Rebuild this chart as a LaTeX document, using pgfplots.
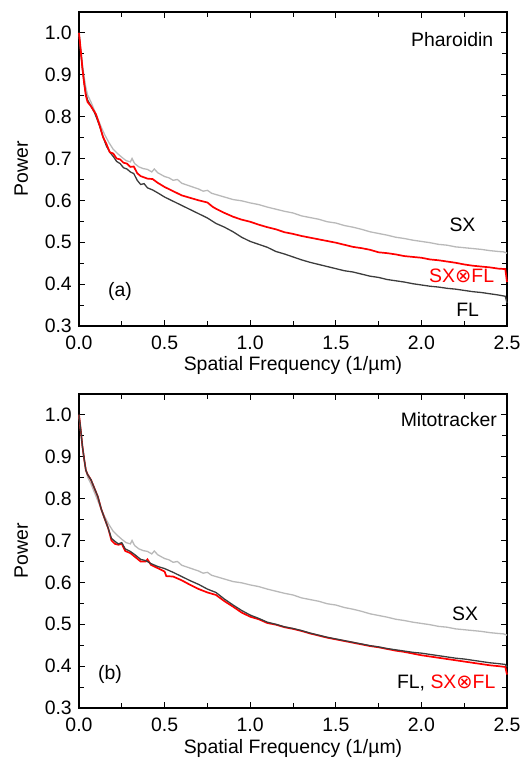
\documentclass[border=0pt]{standalone}
\usepackage{pgfplots}
\pgfplotsset{compat=1.18}
\usepackage{pgfplotstable}
\usepackage{fontspec}
\setmainfont{Liberation Sans}
\newfontfamily\dejavu{DejaVu Sans}
\definecolor{sxgray}{RGB}{185,185,185}
\definecolor{flgray}{RGB}{60,60,60}
\definecolor{sxfl}{RGB}{255,0,0}

\pgfplotstableread{
x y
0.000 1.000
0.010 0.960
0.020 0.925
0.030 0.895
0.040 0.870
0.050 0.852
0.070 0.835
0.090 0.815
0.110 0.795
0.130 0.775
0.150 0.757
0.175 0.738
0.200 0.722
0.225 0.712
0.250 0.703
0.275 0.695
0.300 0.692
0.310 0.700
0.325 0.688
0.350 0.680
0.375 0.676
0.400 0.674
0.425 0.668
0.440 0.675
0.460 0.666
0.500 0.657
0.525 0.654
0.550 0.648
0.575 0.650
0.600 0.641
0.650 0.634
0.700 0.627
0.725 0.622
0.750 0.624
0.775 0.617
0.800 0.614
0.850 0.608
0.900 0.602
0.950 0.599
1.000 0.594
1.050 0.590
1.100 0.584
1.150 0.579
1.200 0.574
1.250 0.570
1.300 0.563
1.350 0.559
1.400 0.555
1.450 0.549
1.500 0.546
1.550 0.540
1.600 0.536
1.650 0.531
1.700 0.525
1.750 0.521
1.800 0.517
1.850 0.512
1.900 0.509
1.950 0.505
2.000 0.502
2.050 0.499
2.100 0.495
2.150 0.493
2.200 0.489
2.250 0.487
2.300 0.485
2.350 0.483
2.400 0.480
2.450 0.478
2.480 0.477
2.500 0.474
}\sxdata

\pgfplotstableread{
x y
0.000 1.000
0.010 0.960
0.020 0.915
0.030 0.880
0.040 0.850
0.050 0.835
0.070 0.825
0.090 0.812
0.100 0.805
0.120 0.780
0.140 0.752
0.160 0.735
0.180 0.715
0.200 0.712
0.220 0.700
0.240 0.698
0.260 0.690
0.280 0.688
0.300 0.680
0.320 0.681
0.340 0.665
0.360 0.658
0.380 0.655
0.400 0.652
0.430 0.651
0.460 0.642
0.500 0.632
0.550 0.622
0.600 0.612
0.650 0.606
0.700 0.600
0.720 0.598
0.750 0.595
0.780 0.585
0.800 0.580
0.850 0.570
0.900 0.561
0.950 0.554
1.000 0.549
1.050 0.542
1.100 0.536
1.150 0.531
1.200 0.524
1.250 0.520
1.300 0.515
1.350 0.511
1.400 0.507
1.450 0.503
1.500 0.499
1.550 0.494
1.600 0.489
1.650 0.486
1.700 0.482
1.750 0.476
1.800 0.474
1.850 0.471
1.900 0.467
1.950 0.465
2.000 0.463
2.050 0.459
2.100 0.457
2.150 0.454
2.200 0.451
2.250 0.447
2.300 0.444
2.350 0.442
2.400 0.440
2.450 0.437
2.490 0.436
2.500 0.405
}\redtop

\pgfplotstableread{
x y
0.000 1.000
0.010 0.955
0.020 0.915
0.030 0.880
0.040 0.855
0.050 0.840
0.070 0.825
0.090 0.810
0.100 0.800
0.120 0.778
0.140 0.752
0.160 0.730
0.180 0.715
0.200 0.705
0.220 0.693
0.240 0.688
0.260 0.678
0.280 0.675
0.300 0.668
0.320 0.664
0.340 0.648
0.360 0.638
0.380 0.640
0.400 0.630
0.430 0.625
0.460 0.618
0.500 0.608
0.550 0.598
0.600 0.588
0.650 0.578
0.700 0.568
0.750 0.558
0.800 0.545
0.850 0.536
0.900 0.525
0.950 0.512
1.000 0.502
1.050 0.495
1.100 0.488
1.150 0.478
1.200 0.472
1.250 0.465
1.300 0.458
1.350 0.452
1.400 0.447
1.450 0.442
1.500 0.437
1.550 0.432
1.600 0.429
1.650 0.424
1.700 0.419
1.750 0.416
1.800 0.411
1.850 0.408
1.900 0.405
1.950 0.401
2.000 0.398
2.050 0.395
2.100 0.393
2.150 0.390
2.200 0.388
2.250 0.385
2.300 0.382
2.350 0.380
2.400 0.377
2.450 0.374
2.490 0.371
2.500 0.355
}\fltop

\pgfplotstableread{
x y
0.000 1.000
0.010 0.965
0.020 0.925
0.030 0.895
0.040 0.868
0.050 0.858
0.070 0.845
0.090 0.825
0.110 0.805
0.130 0.775
0.150 0.752
0.170 0.730
0.190 0.705
0.210 0.698
0.230 0.692
0.250 0.695
0.270 0.680
0.300 0.674
0.330 0.665
0.360 0.655
0.390 0.652
0.420 0.645
0.460 0.638
0.500 0.633
0.550 0.624
0.600 0.614
0.650 0.604
0.700 0.595
0.750 0.584
0.800 0.576
0.850 0.560
0.900 0.546
0.950 0.533
1.000 0.522
1.050 0.514
1.100 0.505
1.150 0.500
1.200 0.494
1.250 0.490
1.300 0.485
1.350 0.479
1.400 0.474
1.450 0.469
1.500 0.465
1.550 0.461
1.600 0.457
1.650 0.453
1.700 0.449
1.750 0.446
1.800 0.442
1.850 0.439
1.900 0.436
1.950 0.433
2.000 0.431
2.050 0.428
2.100 0.425
2.150 0.422
2.200 0.419
2.250 0.417
2.300 0.414
2.350 0.411
2.400 0.408
2.450 0.406
2.490 0.404
2.500 0.398
}\flbot

\pgfplotstableread{
x y
0.000 1.000
0.010 0.965
0.020 0.925
0.030 0.895
0.040 0.868
0.050 0.858
0.070 0.845
0.090 0.825
0.110 0.805
0.130 0.775
0.150 0.752
0.170 0.730
0.190 0.700
0.210 0.692
0.230 0.690
0.250 0.692
0.270 0.675
0.300 0.670
0.330 0.660
0.360 0.650
0.390 0.650
0.400 0.655
0.420 0.642
0.460 0.634
0.500 0.626
0.510 0.615
0.550 0.614
0.600 0.605
0.650 0.594
0.700 0.584
0.750 0.576
0.800 0.570
0.850 0.555
0.900 0.542
0.950 0.528
1.000 0.518
1.050 0.512
1.100 0.503
1.150 0.499
1.200 0.493
1.250 0.489
1.300 0.484
1.350 0.478
1.400 0.473
1.450 0.468
1.500 0.464
1.550 0.460
1.600 0.456
1.650 0.452
1.700 0.448
1.750 0.445
1.800 0.441
1.850 0.437
1.900 0.434
1.950 0.430
2.000 0.426
2.050 0.423
2.100 0.420
2.150 0.417
2.200 0.414
2.250 0.411
2.300 0.408
2.350 0.405
2.400 0.402
2.450 0.400
2.490 0.398
2.500 0.380
}\redbot

\tikzset{txt/.style={font=\fontsize{19.5}{22}\selectfont, inner sep=0pt}}
\pgfplotsset{
  panel/.style={
    scale only axis, width=428bp, height=314bp,
    xmin=0, xmax=2.5, ymin=0.3, ymax=1.05,
    xtick={0,0.5,...,2.5}, minor xtick={0.25,0.75,...,2.25},
    ytick={0.3,0.4,...,1.0}, minor ytick={0.35,0.45,...,1.05},
    xticklabels={0.0,0.5,1.0,1.5,2.0,2.5},
    yticklabels={0.3,0.4,0.5,0.6,0.7,0.8,0.9,1.0},
    tick align=inside, tick pos=both,
    major tick length=6bp, minor tick length=5bp,
    every tick/.style={black, line width=0.9bp},
    axis line style={line width=1.1bp, black},
    /pgf/number format/assume math mode=true,
    tick label style={font=\fontsize{19.5}{22}\selectfont, inner sep=0pt},
    xticklabel style={anchor=north, yshift=-10bp},
    yticklabel style={anchor=east, xshift=-7bp},
    label style={font=\fontsize{19.5}{22}\selectfont},
    xlabel={Spatial Frequency (1/\textmu m)},
    ylabel={Power},
    xlabel style={at={(axis description cs:0.5,0)}, anchor=base, inner sep=0pt, yshift=-45bp},
    ylabel style={at={(axis description cs:-0.1192,0.5)}, anchor=base, inner sep=0pt},
    clip=false,
  },
}

\begin{document}
\begin{tikzpicture}
\useasboundingbox (-79bp,12bp) rectangle (443bp,-746bp);
\begin{axis}[panel, at={(0,0)}, anchor=north west]
\addplot[sxgray, line width=1.3bp] table {\sxdata};
\addplot[flgray, line width=1.3bp] table {\fltop};
\addplot[sxfl, line width=1.7bp] table {\redtop};
\node[txt] at (axis cs:2.18,0.983) {Pharoidin};
\node[txt] at (axis cs:2.24,0.541) {SX};
\node[txt, text=sxfl] at (axis cs:2.235,0.419) {SX{\dejavu ⊗}FL};
\node[txt] at (axis cs:2.27,0.338) {FL};
\node[txt] at (axis cs:0.24,0.382) {(a)};
\end{axis}
\begin{axis}[panel, at={(0,-382bp)}, anchor=north west]
\addplot[sxgray, line width=1.3bp] table {\sxdata};
\addplot[sxfl, line width=1.7bp] table {\redbot};
\addplot[flgray, line width=1.3bp] table {\flbot};
\node[txt] at (axis cs:2.16,0.99) {Mitotracker};
\node[txt] at (axis cs:2.255,0.524) {SX};
\node[txt] at (axis cs:2.145,0.36) {FL, \textcolor{sxfl}{SX{\dejavu ⊗}FL}};
\node[txt] at (axis cs:0.181,0.381) {(b)};
\end{axis}
\end{tikzpicture}
\end{document}
